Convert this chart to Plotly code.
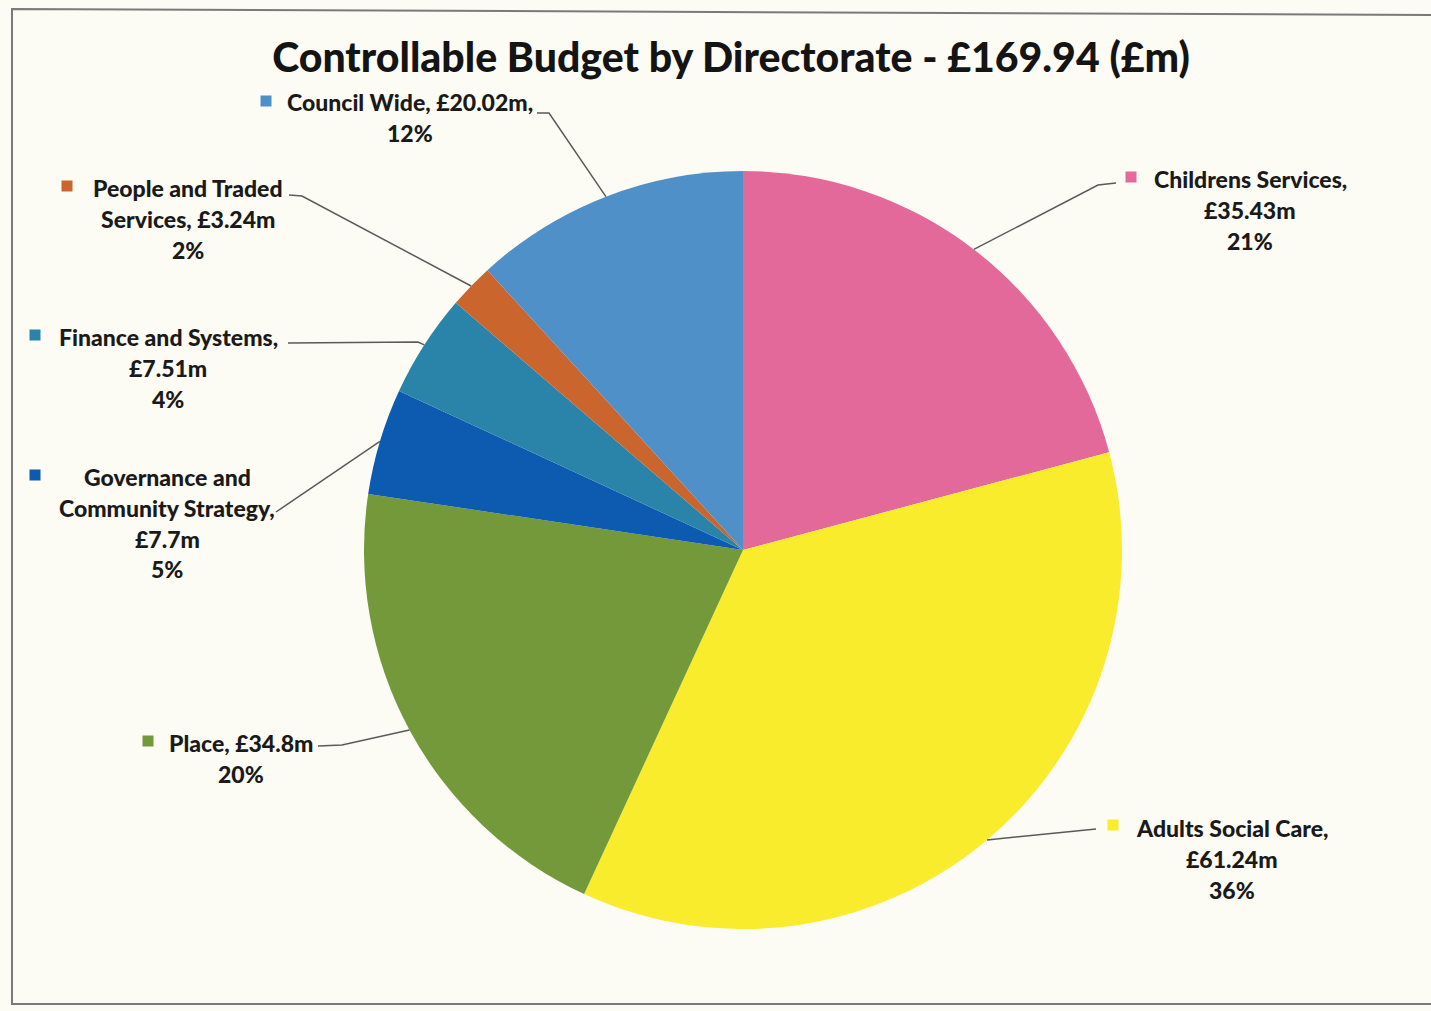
import math
import plotly.graph_objects as go

# Controllable budget by directorate (£m), clockwise from 12 o'clock
directorates = [
    "Childrens Services",
    "Adults Social Care",
    "Place",
    "Governance and Community Strategy",
    "Finance and Systems",
    "People and Traded Services",
    "Council Wide",
]
budget_m = [35.43, 61.24, 34.8, 7.7, 7.51, 3.24, 20.02]
slice_colors = ["#e2699a", "#f8ec2c", "#73993b", "#0d5bb1", "#2a84aa", "#c9652d", "#5090c8"]

total = round(sum(budget_m), 2)
title_text = f"Controllable Budget by Directorate - £{total} (£m)"

# label line templates: {v} = value, {p} = percent
label_templates = {
    "Childrens Services": ["Childrens Services,", "{v}", "{p}"],
    "Adults Social Care": ["Adults Social Care,", "{v}", "{p}"],
    "Place": ["Place, {v}", "{p}"],
    "Governance and Community Strategy": ["Governance and", "Community Strategy,", "{v}", "{p}"],
    "Finance and Systems": ["Finance and Systems,", "{v}", "{p}"],
    "People and Traded Services": ["People and Traded", "Services, {v}", "{p}"],
    "Council Wide": ["Council Wide, {v},", "{p}"],
}

# ---- layout (pixels) ----
W, H = 1431, 1011
PIE_CX, PIE_CY, PIE_R = 743, 550, 379
LINE_GAP = 30.8
# label block: centre x, first-line y, key square x, key square y
label_pos = {
    "Childrens Services": (1250, 179, 1131, 177),
    "Adults Social Care": (1232, 828, 1113, 825),
    "Place": (241, 743, 148, 741),
    "Governance and Community Strategy": (167, 477, 35, 475),
    "Finance and Systems": (168, 337, 35, 335),
    "People and Traded Services": (188, 188, 67, 186),
    "Council Wide": (410, 102, 266, 101),
}
# leader-line points at the label side (outer end first)
leader_ends = {
    "Childrens Services": [(1116, 183), (1098, 185)],
    "Adults Social Care": [(1096, 829)],
    "Place": [(318, 746), (342, 745)],
    "Governance and Community Strategy": [(276, 512)],
    "Finance and Systems": [(288, 343), (418, 342)],
    "People and Traded Services": [(289, 195), (302, 196)],
    "Council Wide": [(537, 113), (549, 113)],
}


def px(x):
    return x / W


def py(y):
    return 1 - y / H


FONT = "Lato, 'Open Sans', sans-serif"
TEXT_COL = "#1a1a1a"

fig = go.Figure(
    go.Pie(
        labels=directorates,
        values=budget_m,
        sort=False,
        direction="clockwise",
        rotation=0,
        marker=dict(colors=slice_colors, line=dict(width=0)),
        textinfo="none",
        hoverinfo="label+value+percent",
        showlegend=False,
        domain=dict(
            x=[px(PIE_CX - PIE_R), px(PIE_CX + PIE_R)],
            y=[py(PIE_CY + PIE_R), py(PIE_CY - PIE_R)],
        ),
    )
)

annotations = []
shapes = []

# outer frame of the chart area
shapes.append(dict(
    type="path", xref="paper", yref="paper",
    path=f"M {px(1440)} {py(15)} L {px(12)} {py(9)} L {px(12)} {py(1004)} L {px(1440)} {py(1004)}",
    line=dict(color="#7a7a7a", width=2),
))

cum = 0.0
for name, val, col in zip(directorates, budget_m, slice_colors):
    frac = val / total
    mid = (cum + frac / 2) * 2 * math.pi
    cum += frac
    # point on the pie edge at the middle of the slice
    ex = PIE_CX + PIE_R * math.sin(mid)
    ey = PIE_CY - PIE_R * math.cos(mid)

    pts = leader_ends[name] + [(ex, ey)]
    path = "M " + " L ".join(f"{px(x)} {py(y)}" for x, y in pts)
    shapes.append(dict(type="path", xref="paper", yref="paper", path=path,
                       line=dict(color="#5a5a5a", width=1.5)))

    cx, y0, kx, ky = label_pos[name]
    vtxt = f"£{val:g}m"
    ptxt = f"{round(frac * 100)}%"
    for i, tmpl in enumerate(label_templates[name]):
        annotations.append(dict(
            xref="paper", yref="paper", x=px(cx), y=py(y0 + i * LINE_GAP),
            xanchor="center", yanchor="middle", showarrow=False,
            text=tmpl.format(v=vtxt, p=ptxt),
            font=dict(family=FONT, size=23, color=TEXT_COL, weight=900),
        ))
    # key square
    s = 5.5
    shapes.append(dict(type="rect", xref="paper", yref="paper",
                       x0=px(kx - s), x1=px(kx + s), y0=py(ky + s), y1=py(ky - s),
                       fillcolor=col, line=dict(width=0)))

fig.update_layout(
    width=W, height=H, autosize=False,
    margin=dict(l=0, r=0, t=0, b=0),
    paper_bgcolor="#fcfbf4",
    plot_bgcolor="#fcfbf4",
    title=dict(
        text=title_text,
        x=px(731), xanchor="center", y=py(58), yanchor="middle",
        font=dict(family=FONT, size=41, color="#141414", weight=900),
    ),
    annotations=annotations,
    shapes=shapes,
)

fig.write_html("out.html")
